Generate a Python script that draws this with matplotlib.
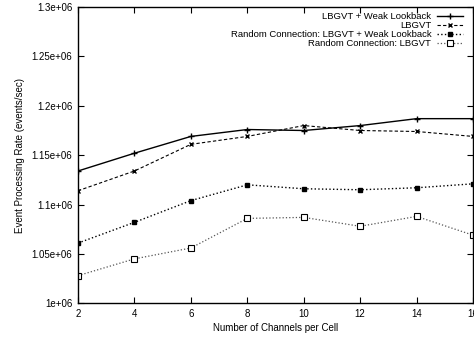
import matplotlib
matplotlib.use("Agg")
import matplotlib.pyplot as plt
from matplotlib.ticker import FixedLocator

plt.rcParams['font.family'] = ['Liberation Sans', 'DejaVu Sans']

channels = [2, 4, 6, 8, 10, 12, 14, 16]

lbgvt_weak = [1.134e6, 1.152e6, 1.169e6, 1.176e6, 1.175e6, 1.180e6, 1.187e6, 1.187e6]
lbgvt = [1.114e6, 1.134e6, 1.161e6, 1.169e6, 1.180e6, 1.175e6, 1.174e6, 1.169e6]
rand_lbgvt_weak = [1.061e6, 1.082e6, 1.104e6, 1.120e6, 1.116e6, 1.115e6, 1.117e6, 1.121e6]
rand_lbgvt = [1.028e6, 1.045e6, 1.056e6, 1.086e6, 1.087e6, 1.078e6, 1.088e6, 1.069e6]

labels = ['LBGVT + Weak Lookback', 'LBGVT',
          'Random Connection: LBGVT + Weak Lookback', 'Random Connection: LBGVT']
yticks = [1.0e6, 1.05e6, 1.1e6, 1.15e6, 1.2e6, 1.25e6, 1.3e6]
ytick_labels = ['1e+06', '1.05e+06', '1.1e+06', '1.15e+06', '1.2e+06', '1.25e+06', '1.3e+06']

fig = plt.figure(figsize=(4.74, 3.37), dpi=100)
ax = fig.add_axes([0.1646, 0.1, 0.8334, 0.879])

ax.plot(channels, lbgvt_weak, '-', color='black', lw=1.0, marker='+',
        markersize=5, markeredgewidth=1.0, label=labels[0])
ax.plot(channels, lbgvt, '--', dashes=(3, 2), color='black', lw=0.8, marker='x',
        markersize=3.5, markeredgewidth=1.0, label=labels[1])
ax.plot(channels, rand_lbgvt_weak, ':', color='black', lw=1.0, marker='s',
        markersize=3.5, markerfacecolor='black', label=labels[2])
ax.plot(channels, rand_lbgvt, ':', color='#555555', lw=0.9, marker='s',
        markersize=4, markerfacecolor='white', markeredgecolor='black',
        markeredgewidth=0.8, label=labels[3])

ax.set_xlim(2, 16)
ax.set_ylim(1.0e6, 1.3e6)
ax.xaxis.set_major_locator(FixedLocator(channels))
ax.set_xticklabels([str(c) for c in channels])
ax.yaxis.set_major_locator(FixedLocator(yticks))
ax.set_yticklabels(ytick_labels)
ax.tick_params(direction='in', top=True, right=True, length=4, width=0.8,
               labelsize=7, pad=4)
for s in ax.spines.values():
    s.set_linewidth(1.0)

ax.set_xlabel('Number of Channels per Cell', fontsize=7, labelpad=3)
ax.set_ylabel('Event Processing Rate (events/sec)', fontsize=7, labelpad=5)

leg = ax.legend(loc='upper right', bbox_to_anchor=(0.985, 0.995), frameon=False,
                fontsize=6.8, markerfirst=False, handlelength=2.8,
                labelspacing=0.0, handletextpad=0.6, borderaxespad=0.0)
for t in leg.get_texts():
    t.set_ha('right')
leg._legend_box.align = 'right'

fig.savefig('out.png', dpi=100)
